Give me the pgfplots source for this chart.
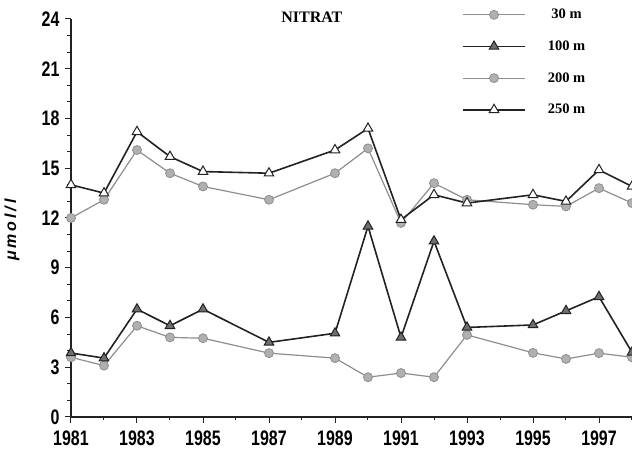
\documentclass[border=0pt]{standalone}
\usepackage{pgfplots}
\pgfplotsset{compat=1.18}
\usepackage{pgfplotstable}
\usepackage{fontspec}
\setmainfont{Liberation Serif}
\newfontfamily\tickfont[FakeStretch=0.76]{Liberation Sans}
\newfontfamily\labfont[LetterSpace=18]{Liberation Sans}
\definecolor{lgray}{HTML}{8E8E8E}
\definecolor{mfill}{HTML}{B0B0B0}
\definecolor{dark}{HTML}{222222}
\definecolor{tfill}{HTML}{6E6E6E}

\pgfplotstableread{
year  m30   m100  m200  m250
1981  3.6   3.86  12.0  14.0
1982  3.1   3.55  13.1  13.5
1983  5.5   6.5   16.1  17.2
1984  4.8   5.5   14.7  15.7
1985  4.75  6.5   13.9  14.8
1987  3.85  4.5   13.1  14.7
1989  3.55  5.05  14.7  16.1
1990  2.4   11.5  16.2  17.4
1991  2.65  4.8   11.7  11.9
1992  2.4   10.6  14.1  13.4
1993  4.95  5.4   13.1  12.9
1995  3.87  5.55  12.8  13.4
1996  3.5   6.4   12.7  13.0
1997  3.85  7.25  13.8  14.9
1998  3.6   3.9   12.9  13.9
}\datatable

\begin{document}
\begin{tikzpicture}
\begin{axis}[
  name=ax,
  scale only axis,
  width=561pt, height=398pt,
  xmin=1981, xmax=1998, ymin=0, ymax=24,
  axis lines*=left,
  axis line style={line width=1.3pt, dark},
  xtick={1981,1983,...,1997},
  minor xtick={1982,1984,...,1998},
  ytick={0,3,...,24},
  minor y tick num=2,
  tick align=outside,
  major tick length=6pt,
  minor tick length=3.5pt,
  every tick/.style={line width=1pt, dark},
  /pgf/number format/.cd, 1000 sep={}, assume math mode=true,
  /pgfplots/.cd,
  ticklabel style={font=\tickfont\bfseries\fontsize{21}{21}\selectfont},
  xticklabel style={yshift=-4pt},
  yticklabel style={xshift=-2pt},
  ylabel={\labfont\bfseries\itshape μmol/l},
  every axis y label/.style={at={(axis description cs:-0.105,0.47)}, rotate=90, anchor=center, font=\fontsize{16}{16}\selectfont},
  clip=false,
  legend style={at={(0.697,1.03)}, anchor=north west, draw=none, fill=none,
    inner sep=0pt, row sep=16.5pt, font=\bfseries\fontsize{14.5}{14.5}\selectfont},
  legend cell align=center,
  legend image code/.code={%
    \draw[#1, mark repeat=2, mark phase=2] plot coordinates {(0pt,0pt) (31pt,0pt) (62pt,0pt)};
    \path (82pt,0pt);},
]
\addplot[color=lgray, line width=1.2pt, mark=*, mark size=4.5pt,
  mark options={draw=lgray, fill=mfill, line width=0.8pt}]
  table[x=year, y=m30] {\datatable};
\addlegendentry{30 m}
\addplot[color=dark, line width=1.6pt, mark=triangle*, mark size=5.5pt,
  mark options={draw=dark, fill=tfill, line width=1pt}]
  table[x=year, y=m100] {\datatable};
\addlegendentry{100 m}
\addplot[color=lgray, line width=1.2pt, mark=*, mark size=4.5pt,
  mark options={draw=lgray, fill=mfill, line width=0.8pt}]
  table[x=year, y=m200] {\datatable};
\addlegendentry{200 m}
\addplot[color=dark, line width=1.6pt, mark=triangle*, mark size=5.5pt,
  mark options={draw=dark, fill=white, line width=1pt}]
  table[x=year, y=m250] {\datatable};
\addlegendentry{250 m}
\node[font=\bfseries\fontsize{16}{16}\selectfont, anchor=north, inner sep=0pt]
  at (axis cs:1988.3,24.45) {NITRAT};
\end{axis}
\pgfresetboundingbox
\path ([xshift=-71pt,yshift=-37pt]ax.south west) rectangle ([yshift=19pt]ax.north east);
\end{tikzpicture}
\end{document}
